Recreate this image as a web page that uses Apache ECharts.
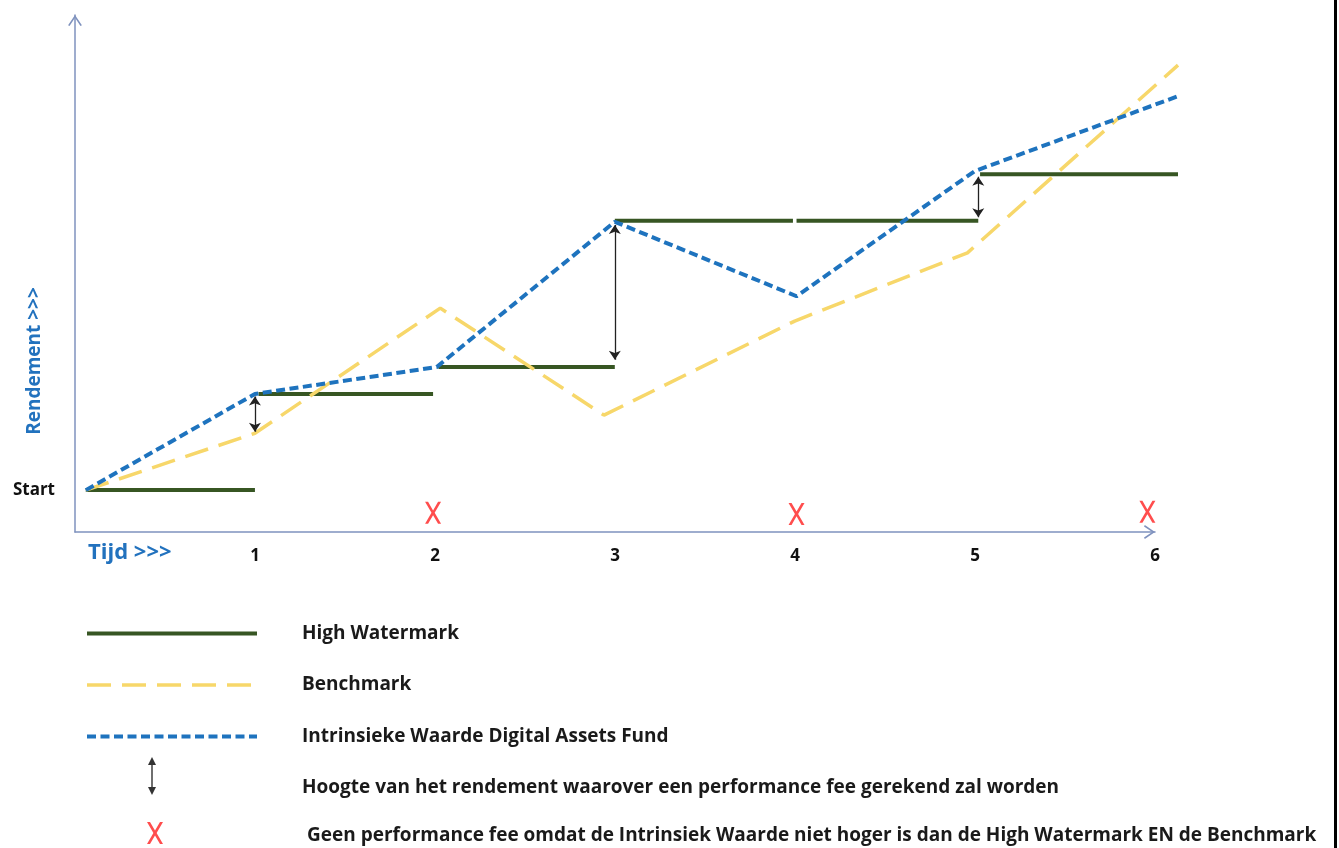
<!DOCTYPE html>
<html><head><meta charset="utf-8">
<script src="https://cdn.jsdelivr.net/npm/echarts@6/dist/echarts.min.js"></script>
<style>html,body{margin:0;padding:0;background:#fff}#c{width:1339px;height:848px}</style>
</head><body><div id="c"></div><script>
// ---- data (y in arbitrary "rendement" units, x in time periods) ----
const xTickValues = [1, 2, 3, 4, 5, 6];
const startLevel = 8.1;
const fundX = [0.06, 1, 2.01, 3, 4.01, 5, 6.13];
const fundY = [8.1, 26.7, 31.9, 60.0, 45.6, 69.8, 84.3];
const benchX = [0.06, 1, 2.03, 2.94, 4, 4.96, 6.13];
const benchY = [8.1, 19.1, 43.3, 22.6, 40.8, 54.0, 90.3];
// high watermark segments: [xFrom, xTo, level]
const hwmFrom = [0.06, 1.02, 2.02, 3.0, 4.01, 5.03];
const hwmTo = [1.0, 1.99, 3.0, 3.99, 5.02, 6.13];
const hwmLevel = [8.1, 26.7, 31.9, 60.2, 60.2, 69.2];
// performance-fee arrows: x, top, bottom
const feeX = [1, 3, 5.02];
const feeTop = [26.2, 59.4, 68.7];
const feeBottom = [19.4, 33.3, 60.9];
// no-fee markers
const noFeeX = [1.99, 4.01, 5.96];
const noFeeY = [3.7, 3.5, 3.9];

const names = {
  hwm: 'High Watermark',
  bench: 'Benchmark',
  fund: 'Intrinsieke Waarde Digital Assets Fund',
  fee: 'Hoogte van het rendement waarover een performance fee gerekend zal worden',
  nofee: 'Geen performance fee omdat de Intrinsiek Waarde niet hoger is dan de High Watermark EN de Benchmark'
};

const hwmData = [];
hwmFrom.forEach((f, i) => {
  hwmData.push([f, hwmLevel[i]], [hwmTo[i], hwmLevel[i]], [hwmTo[i], '-']);
});
const zip = (a, b) => a.map((v, i) => [v, b[i]]);

const FONT = '"Open Sans", sans-serif';
const BLUE_TXT = '#2272BE';
const AXIS_CLR = '#7F92BE';
const GREEN = '#375623', YELLOW = '#F7D76A', BLUE = '#1E73BE', RED = '#FF2020';
const chevron = 'path://M0,11 L7.5,0 L15,11 L13.4,11.9 L7.5,3 L1.6,11.9 Z';
const xPath = 'path://M0,0 L3,0 L8,8.6 L13,0 L16,0 L9.6,11 L16,22 L13,22 L8,13.4 L3,22 L0,22 L6.4,11 Z';
const xLegendPath = 'path://M8,28 M0,0 L3,0 L8,8.6 L13,0 L16,0 L9.6,11 L16,22 L13,22 L8,13.4 L3,22 L0,22 L6.4,11 Z';
const arrowLegendPath = 'path://M4,62 M4,0 L8,8 L4.7,8 L4.7,30 L8,30 L4,38 L0,30 L3.3,30 L3.3,8 L0,8 Z';

const chart = echarts.init(document.getElementById('c'), null, {renderer: 'canvas'});
const legendText = (padLeft) => ({
  fontFamily: FONT, fontWeight: 'bold', fontSize: 19, color: '#1a1a1a',
  padding: [0, 0, 0, padLeft]
});
const axisLineStyle = {show: true, lineStyle: {color: AXIS_CLR, width: 1.5}, symbol: ['none', chevron], symbolSize: [15, 11], symbolOffset: [0, -5.5]};
chart.setOption({
  animation: false,
  backgroundColor: '#fff',
  grid: [
    {left: 75, right: 161, top: 15, bottom: 316},   // data grid (0 .. 6.13)
    {left: 75, right: 184, top: 15, bottom: 316}    // axis grid (0 .. 6)
  ],
  xAxis: [
    {gridIndex: 0, type: 'value', min: 0, max: 6.13, show: false},
    {gridIndex: 1, type: 'value', min: 0, max: 6, interval: 1,
     axisLine: axisLineStyle, axisTick: {show: false}, splitLine: {show: false},
     axisLabel: {customValues: xTickValues, margin: 16, fontFamily: FONT, fontWeight: 'bold', fontSize: 17, color: '#111'}}
  ],
  yAxis: [
    {gridIndex: 0, type: 'value', min: 0, max: 100,
     axisLine: axisLineStyle, axisTick: {show: false}, splitLine: {show: false},
     axisLabel: {customValues: [startLevel], formatter: () => 'Start', margin: 20, fontFamily: FONT, fontWeight: 'bold', fontSize: 17, color: '#111'}},
    {gridIndex: 1, type: 'value', min: 0, max: 100, show: false}
  ],
  legend: [
    {data: [
      {name: names.hwm, lineStyle: {width: 4}},
      {name: names.bench, lineStyle: {width: 3.5}},
      {name: names.fund, lineStyle: {width: 4}}],
     orient: 'vertical', left: 85, top: 624, padding: 0,
     itemWidth: 170, itemHeight: 18, itemGap: 32.5, selectedMode: false,
     itemStyle: {opacity: 0}, textStyle: legendText(40)},
    {data: [{name: names.fee, icon: arrowLegendPath, itemStyle: {color: '#333', borderWidth: 0}}], orient: 'vertical', left: 148, top: 757, padding: 0,
     itemWidth: 10, itemHeight: 62, selectedMode: false, textStyle: legendText(140)},
    {data: [{name: names.nofee, icon: xLegendPath, itemStyle: {color: RED, borderWidth: 0}}], orient: 'vertical', left: 147, top: 822, padding: 0,
     itemWidth: 16, itemHeight: 28, selectedMode: false, textStyle: legendText(139)}
  ],
  graphic: [
    {type: 'text', x: 35, y: 361, rotation: Math.PI / 2, style: {text: 'Rendement >>>', font: 'bold 19px ' + FONT, fill: BLUE_TXT, align: 'center', verticalAlign: 'middle'}},
    {type: 'text', x: 88, y: 553, style: {text: 'Tijd >>>', font: 'bold 22px ' + FONT, fill: BLUE_TXT, align: 'left', verticalAlign: 'middle'}},
    {type: 'rect', shape: {x: 1334, y: 0, width: 3, height: 848}, style: {fill: '#000'}}
  ],
  series: [
    {name: names.hwm, type: 'line', xAxisIndex: 0, yAxisIndex: 0, data: hwmData, symbol: 'none', connectNulls: false,
     lineStyle: {color: GREEN, width: 4}, itemStyle: {color: GREEN}, z: 2},
    {name: names.bench, type: 'line', xAxisIndex: 0, yAxisIndex: 0, data: zip(benchX, benchY), symbol: 'none',
     lineStyle: {color: YELLOW, width: 3.5, type: [24, 11]}, itemStyle: {color: YELLOW}, z: 3},
    {name: names.fund, type: 'line', xAxisIndex: 0, yAxisIndex: 0, data: zip(fundX, fundY), symbol: 'none',
     lineStyle: {color: BLUE, width: 4, type: [9, 4.5]}, itemStyle: {color: BLUE}, z: 4},
    {name: names.fee, type: 'lines', coordinateSystem: 'cartesian2d', xAxisIndex: 0, yAxisIndex: 0,
     data: feeX.map((x, i) => ({coords: [[x, feeTop[i]], [x, feeBottom[i]]]})),
     symbol: ['arrow', 'arrow'], symbolSize: 9,
     lineStyle: {color: '#222', width: 1.3, opacity: 1, curveness: 0}, z: 5},
    {name: names.nofee, type: 'scatter', xAxisIndex: 0, yAxisIndex: 0, data: zip(noFeeX, noFeeY), symbol: xPath, symbolSize: [16, 22],
     itemStyle: {color: RED}, z: 5}
  ]
});
</script></body></html>
